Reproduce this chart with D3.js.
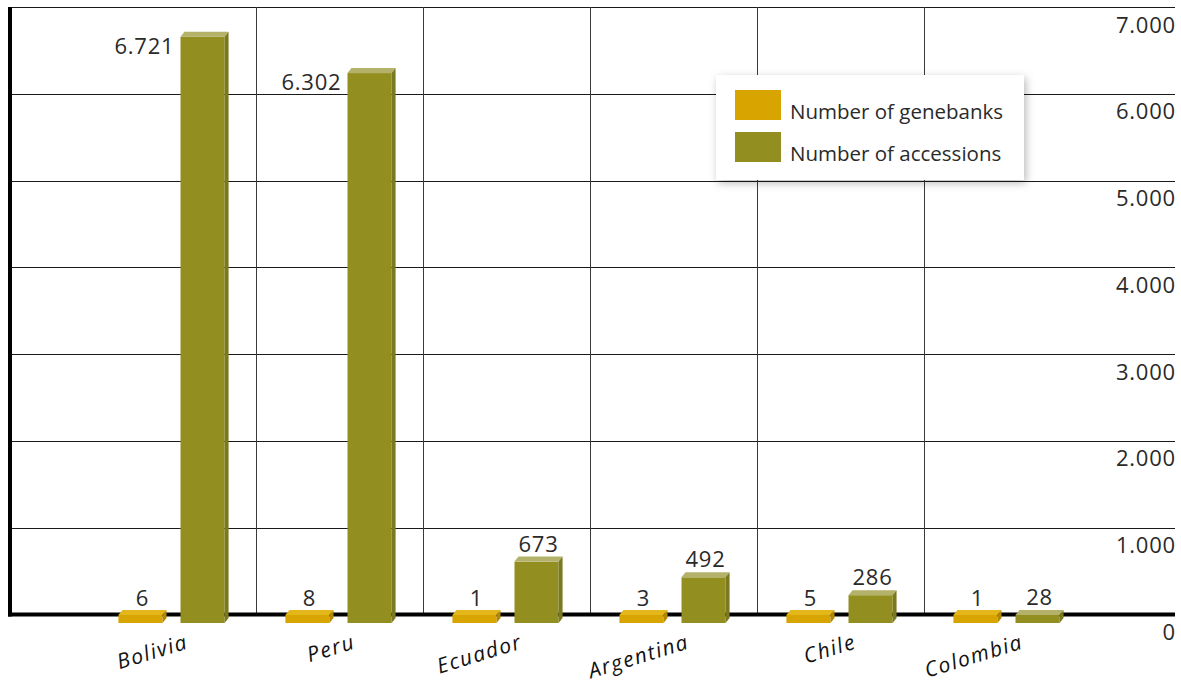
<!DOCTYPE html>
<html>
<head>
<meta charset="utf-8">
<script src="https://cdn.jsdelivr.net/npm/d3@7"></script>
<style>
  html, body { margin: 0; padding: 0; background: #fff; }
  svg { display: block; font-family: "Open Sans", sans-serif; }
</style>
</head>
<body>
<svg id="chart" width="1181" height="683"></svg>
<script>
// Genebanks and accessions per country
const countries = ["Bolivia", "Peru", "Ecuador", "Argentina", "Chile", "Colombia"];
const genebanks = [6, 8, 1, 3, 5, 1];
const accessions = [6721, 6302, 673, 492, 286, 28];
const seriesNames = ["Number of genebanks", "Number of accessions"];
const yTicks = [0, 1000, 2000, 3000, 4000, 5000, 6000, 7000];
const tickLabels = ["0", "1.000", "2.000", "3.000", "4.000", "5.000", "6.000", "7.000"];

const colors = {
  gene: { front: "#d8a400", top: "#e3b619", side: "#b38800" },
  acc:  { front: "#928f20", top: "#b4b16a", side: "#7b7920" }
};

const svg = d3.select("#chart");

// Back wall (gridlines) and front (bar faces) share the value scale; the front is shifted down a little
const left = 10, right = 1175;
const y = d3.scaleLinear().domain([0, 7000]).range([614.5, 7]);
const frontShift = 5.5;
const barBottom = 623;
const minFront = 8;
const depthX = 4, depthY = 5;

const x = d3.scaleBand().domain(countries).range([88, 1090]).padding(0);
const x1 = d3.scaleBand().domain(seriesNames).range([0, x.bandwidth()])
  .paddingInner(0.29).paddingOuter(0.49);

// horizontal gridlines
svg.append("g").selectAll("line")
  .data(yTicks.filter(d => d > 0))
  .join("line")
  .attr("x1", left).attr("x2", right)
  .attr("y1", d => Math.round(y(d)) + 0.5).attr("y2", d => Math.round(y(d)) + 0.5)
  .attr("stroke", "#1a1a1a").attr("stroke-width", 1);

// vertical gridlines between countries
svg.append("g").selectAll("line")
  .data(countries.slice(1))
  .join("line")
  .attr("x1", d => Math.round(x(d)) + 1.5).attr("x2", d => Math.round(x(d)) + 1.5)
  .attr("y1", y(7000)).attr("y2", y(0))
  .attr("stroke", "#3a3a3a").attr("stroke-width", 1);

// axis lines
svg.append("line").attr("x1", left).attr("x2", left)
  .attr("y1", y(7000)).attr("y2", y(0) + 2)
  .attr("stroke", "#000").attr("stroke-width", 4);
svg.append("line").attr("x1", left - 2).attr("x2", right)
  .attr("y1", y(0)).attr("y2", y(0))
  .attr("stroke", "#000").attr("stroke-width", 4);

// right-hand value labels, placed under each gridline
svg.append("g").selectAll("text")
  .data(yTicks)
  .join("text")
  .attr("x", right + 1).attr("y", d => y(d) + 25.5)
  .attr("text-anchor", "end")
  .attr("font-size", 22).attr("letter-spacing", 0.8).attr("fill", "#2a2a2a")
  .text((d, i) => tickLabels[i]);

// one 3D bar: front, top and side faces
function bar3d(g, xLeft, w, value, c) {
  let top = y(value) + frontShift;
  top = Math.min(top, barBottom - minFront);
  g.append("rect").attr("x", xLeft).attr("y", top)
    .attr("width", w).attr("height", barBottom - top).attr("fill", c.front);
  g.append("path")
    .attr("d", `M${xLeft},${top}L${xLeft + depthX},${top - depthY}L${xLeft + w + depthX},${top - depthY}L${xLeft + w},${top}Z`)
    .attr("fill", c.top);
  g.append("path")
    .attr("d", `M${xLeft + w},${top}L${xLeft + w + depthX},${top - depthY}L${xLeft + w + depthX},${barBottom - depthY}L${xLeft + w},${barBottom}Z`)
    .attr("fill", c.side);
  return top;
}

const bars = svg.append("g");
const labels = svg.append("g").attr("font-size", 22).attr("letter-spacing", 0.8).attr("fill", "#2a2a2a");

countries.forEach((country, i) => {
  const g = bars.append("g");
  const w = x1.bandwidth();

  // genebanks
  const gx = x(country) + x1(seriesNames[0]);
  const gTop = bar3d(g, gx, w, genebanks[i], colors.gene);
  labels.append("text")
    .attr("x", gx + w / 2 + depthX / 2).attr("y", gTop - 9)
    .attr("text-anchor", "middle").text(genebanks[i]);

  // accessions
  const ax = x(country) + x1(seriesNames[1]);
  const aTop = bar3d(g, ax, w, accessions[i], colors.acc);
  const txt = d3.format(",")(accessions[i]).replace(/,/g, ".");
  if (accessions[i] > 6000) {
    labels.append("text")
      .attr("x", ax - 6).attr("y", aTop + 17)
      .attr("text-anchor", "end").text(txt);
  } else {
    labels.append("text")
      .attr("x", ax + w / 2 + depthX / 2).attr("y", aTop - 10)
      .attr("text-anchor", "middle").text(txt);
  }
});

// category labels, tilted
svg.append("g").selectAll("text")
  .data(countries)
  .join("text")
  .attr("transform", d => `translate(${x(d) + x.bandwidth() / 2 + 18},648) rotate(-17)`)
  .attr("text-anchor", "end")
  .attr("font-size", 21).attr("font-style", "italic")
  .attr("letter-spacing", 1.6)
  .attr("fill", "#111")
  .text(d => d);

// legend
const defs = svg.append("defs");
const f = defs.append("filter").attr("id", "shadow")
  .attr("x", "-10%").attr("y", "-10%").attr("width", "125%").attr("height", "130%");
f.append("feDropShadow").attr("dx", 2).attr("dy", 3).attr("stdDeviation", 4)
  .attr("flood-color", "#000").attr("flood-opacity", 0.28);

const legend = svg.append("g").attr("transform", "translate(716,75)");
legend.append("rect").attr("width", 308).attr("height", 105)
  .attr("fill", "#fff").attr("filter", "url(#shadow)");
const legendColors = [colors.gene.front, colors.acc.front];
seriesNames.forEach((name, i) => {
  const row = legend.append("g").attr("transform", `translate(19,${15 + i * 42})`);
  row.append("rect").attr("width", 46).attr("height", 30).attr("fill", legendColors[i]);
  row.append("text").attr("x", 55).attr("y", 29)
    .attr("font-size", 20.5).attr("fill", "#2a2a2a").text(name);
});
</script>
</body>
</html>
